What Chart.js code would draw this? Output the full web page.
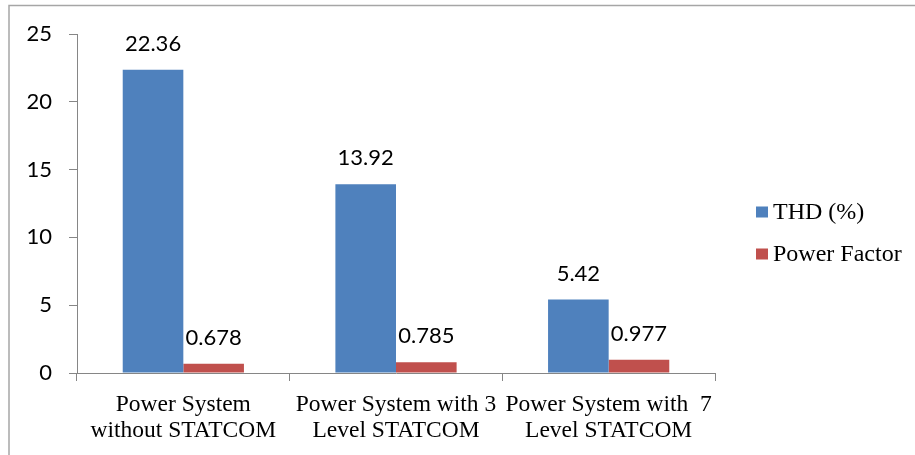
<!DOCTYPE html>
<html>
<head>
<meta charset="utf-8">
<script src="https://cdn.jsdelivr.net/npm/chart.js@4.4.0/dist/chart.umd.min.js"></script>
<style>
  html, body { margin: 0; padding: 0; background: #fff; }
  #wrap { position: relative; width: 915px; height: 455px; }
</style>
</head>
<body>
<div id="wrap"><canvas id="thdChart" width="915" height="455"></canvas></div>
<script>
const categories = [
    ["Power System", "without STATCOM"],
    ["Power System with 3", "Level STATCOM"],
    ["Power System with  7", "Level STATCOM"]
];
const thdValues = [22.36, 13.92, 5.42];
const pfValues = [0.678, 0.785, 0.977];
const yTicks = [0, 5, 10, 15, 20, 25];

const blue = "#4F81BD";
const red = "#C0504D";
const axisGray = "#868686";

// outer frame (only top and left edges are visible in the picture)
const framePlugin = {
    id: "frame",
    beforeDraw(chart) {
        const c = chart.ctx;
        c.save();
        c.strokeStyle = "#a6a6a6";
        c.lineWidth = 1.5;
        c.beginPath();
        c.moveTo(9, 460);
        c.lineTo(9, 5.5);
        c.lineTo(920, 5.5);
        c.stroke();
        c.restore();
    }
};

// value labels above each bar
const valueLabels = {
    id: "valueLabels",
    afterDatasetsDraw(chart) {
        const c = chart.ctx;
        c.save();
        c.font = "22px Lato";
        c.fillStyle = "#000";
        c.textAlign = "center";
        c.textBaseline = "alphabetic";
        chart.data.datasets.forEach((ds, i) => {
            chart.getDatasetMeta(i).data.forEach((bar, j) => {
                c.fillText(String(ds.data[j]), bar.x, bar.y - 19);
            });
        });
        c.restore();
    }
};

// legend on the right
const sideLegend = {
    id: "sideLegend",
    afterDraw(chart) {
        const c = chart.ctx;
        const ys = [212, 254];
        c.save();
        c.font = "24px 'Liberation Serif'";
        c.textBaseline = "middle";
        c.textAlign = "left";
        chart.data.datasets.forEach((ds, i) => {
            c.fillStyle = ds.backgroundColor;
            c.fillRect(756, ys[i] - 5.5, 12, 11);
            c.fillStyle = "#000";
            c.fillText(ds.label, 773, ys[i] + 1);
        });
        c.restore();
    }
};

new Chart(document.getElementById("thdChart").getContext("2d"), {
    type: "bar",
    data: {
        labels: categories,
        datasets: [
            { label: "THD (%)", data: thdValues, backgroundColor: blue },
            { label: "Power Factor", data: pfValues, backgroundColor: red }
        ]
    },
    options: {
        responsive: false,
        animation: false,
        devicePixelRatio: 1,
        layout: { padding: { left: 0, top: 34, right: 200, bottom: 0 } },
        datasets: {
            bar: { barPercentage: 1, categoryPercentage: 0.57 }
        },
        plugins: {
            legend: { display: false },
            tooltip: { enabled: false }
        },
        scales: {
            x: {
                grid: {
                    offset: true,
                    drawOnChartArea: false,
                    drawTicks: true,
                    tickLength: 8,
                    color: axisGray
                },
                border: { color: axisGray, width: 1 },
                ticks: {
                    color: "#000",
                    padding: 11,
                    maxRotation: 0,
                    autoSkip: false,
                    font: { family: "'Liberation Serif'", size: 23.5, lineHeight: 1.11 }
                },
                afterFit(scale) { scale.height = 82; }
            },
            y: {
                min: 0,
                max: 25,
                afterBuildTicks(scale) { scale.ticks = yTicks.map(v => ({ value: v })); },
                grid: {
                    drawOnChartArea: false,
                    drawTicks: true,
                    tickLength: 8,
                    color: axisGray
                },
                border: { color: axisGray, width: 1 },
                ticks: {
                    color: "#000",
                    padding: 17,
                    font: { family: "Lato", size: 22 }
                },
                afterFit(scale) { scale.width = 77; }
            }
        }
    },
    plugins: [framePlugin, valueLabels, sideLegend]
});
</script>
</body>
</html>
